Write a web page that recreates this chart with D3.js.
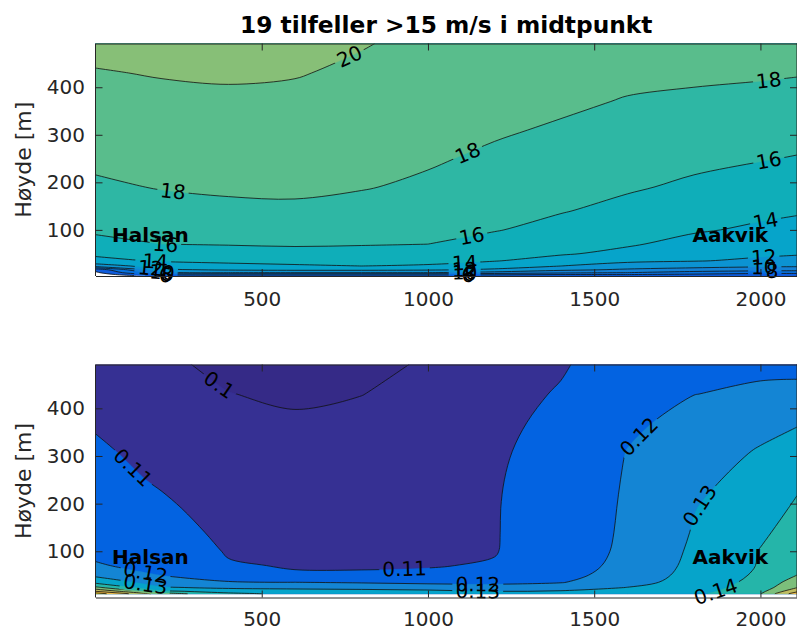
<!DOCTYPE html>
<html>
<head>
<meta charset="utf-8">
<script src="https://cdn.jsdelivr.net/npm/d3@7"></script>
<style>
  body { margin: 0; background: #fff; }
  svg { font-family: "DejaVu Sans", sans-serif; display: block; }
</style>
</head>
<body>
<svg id="fig" width="797" height="632"></svg>
<script>
// ---- data --------------------------------------------------------------
// distance along the crossing, Halsan -> Aakvik (m)
const xDist = [0, 200, 400, 600, 800, 1000, 1200, 1400, 1600, 1800, 2000, 2110];

// heights above sea level (m) of the grid rows
const heightsWind = [3, 6, 10, 16, 24, 35, 50, 70, 100, 140, 190, 250, 310, 370, 430, 492];
const heightsTi   = [11, 16, 24, 35, 50, 70, 100, 140, 190, 250, 310, 370, 430, 492];

// mean wind speed (m/s); one row per height (lowest first), columns follow xDist
const windSpeed = [
  [2.0,  4.6,  4.8,  4.8,  4.8,  4.8,  4.7,  4.5,  4.5,  4.3,  4.2,  4.2],
  [3.0,  6.3,  6.5,  6.5,  6.5,  6.5,  6.3,  6.0,  6.0,  5.6,  5.0,  5.0],
  [3.6,  9.5, 10.0, 10.0, 10.0, 10.0,  9.3,  8.4,  8.0,  7.2,  6.8,  6.7],
  [4.6, 11.7, 12.2, 12.4, 12.4, 12.2, 11.7, 10.4,  9.7,  9.1,  8.7,  8.6],
  [11.0, 12.9, 13.5, 13.8, 14.0, 13.8, 12.9, 12.0, 11.1, 10.8, 10.4, 10.3],
  [13.4, 14.2, 14.4, 14.5, 14.6, 14.5, 14.1, 13.2, 12.4, 12.1, 11.7, 11.3],
  [14.4, 14.9, 15.2, 15.4, 15.4, 15.2, 14.6, 14.2, 13.5, 12.7, 12.3, 12.2],
  [15.4, 16.0, 16.1, 16.2, 16.1, 16.0, 15.3, 14.7, 14.2, 13.4, 12.9, 12.6],
  [16.3, 16.5, 16.7, 16.8, 16.7, 16.5, 16.1, 15.4, 15.0, 14.2, 13.7, 13.4],
  [16.9, 17.3, 17.7, 17.7, 17.4, 17.0, 16.5, 16.1, 15.5, 14.9, 14.4, 14.2],
  [17.7, 18.1, 18.2, 18.3, 18.1, 17.7, 17.1, 16.6, 16.2, 15.7, 15.2, 15.0],
  [18.4, 18.6, 18.7, 18.7, 18.5, 18.2, 17.7, 17.2, 16.8, 16.4, 16.1, 15.9],
  [18.9, 19.1, 19.2, 19.1, 18.9, 18.5, 18.2, 17.8, 17.4, 17.1, 16.8, 16.7],
  [19.4, 19.6, 19.7, 19.6, 19.3, 18.9, 18.6, 18.3, 17.9, 17.7, 17.5, 17.4],
  [19.9, 20.1, 20.2, 20.1, 19.7, 19.2, 19.0, 18.7, 18.4, 18.3, 18.2, 18.1],
  [20.5, 20.6, 20.7, 20.5, 20.1, 19.6, 19.4, 19.1, 18.8, 18.9, 18.9, 18.9]
];

// turbulence intensity (-); one row per height (lowest first), columns follow xDist
const turbIntensity = [
  [0.1850, 0.1550, 0.1420, 0.1380, 0.1370, 0.1370, 0.1360, 0.1360, 0.1345, 0.1375, 0.1495, 0.1760],
  [0.1700, 0.1420, 0.1360, 0.1340, 0.1330, 0.1330, 0.1300, 0.1310, 0.1320, 0.1365, 0.1470, 0.1680],
  [0.1520, 0.1310, 0.1280, 0.1275, 0.1270, 0.1240, 0.1225, 0.1245, 0.1302, 0.1355, 0.1445, 0.1595],
  [0.1370, 0.1250, 0.1205, 0.1200, 0.1190, 0.1183, 0.1185, 0.1195, 0.1260, 0.1345, 0.1428, 0.1550],
  [0.1278, 0.1197, 0.1160, 0.1108, 0.1106, 0.1112, 0.1150, 0.1175, 0.1235, 0.1335, 0.1415, 0.1500],
  [0.1204, 0.1186, 0.1108, 0.1094, 0.1095, 0.1096, 0.1106, 0.1165, 0.1222, 0.1325, 0.1406, 0.1475],
  [0.1190, 0.1168, 0.1092, 0.1087, 0.1088, 0.1091, 0.1096, 0.1158, 0.1215, 0.1316, 0.1404, 0.1455],
  [0.1175, 0.1145, 0.1075, 0.1075, 0.1077, 0.1082, 0.1095, 0.1153, 0.1212, 0.1306, 0.1385, 0.1435],
  [0.1157, 0.1116, 0.1062, 0.1060, 0.1063, 0.1071, 0.1095, 0.1148, 0.1210, 0.1297, 0.1362, 0.1412],
  [0.1135, 0.1089, 0.1046, 0.1042, 0.1047, 0.1058, 0.1093, 0.1140, 0.1207, 0.1275, 0.1336, 0.1385],
  [0.1114, 0.1069, 0.1031, 0.1024, 0.1031, 0.1044, 0.1089, 0.1130, 0.1202, 0.1250, 0.1308, 0.1338],
  [0.1091, 0.1049, 0.1016, 0.1006, 0.1015, 0.1031, 0.1083, 0.1118, 0.1185, 0.1225, 0.1268, 0.1293],
  [0.1066, 0.1029, 0.1001, 0.0993, 0.0999, 0.1018, 0.1075, 0.1106, 0.1163, 0.1199, 0.1212, 0.1230],
  [0.1040, 0.1008, 0.0990, 0.0985, 0.0990, 0.1004, 0.1060, 0.1093, 0.1140, 0.1175, 0.1185, 0.1170]
];

// contour levels
const windLevels = [4, 6, 8, 10, 12, 14, 16, 18, 20];
const tiLevels = [0.10, 0.11, 0.12, 0.13, 0.14, 0.15, 0.16, 0.17, 0.18];

// inline contour labels: level and the approximate spot (distance, height) on the line
const windLabels = [
  {level: 20, x: 765, h: 463},
  {level: 18, x: 234, h: 188}, {level: 18, x: 1125, h: 253}, {level: 18, x: 2025, h: 414},
  {level: 16, x: 210, h: 68},  {level: 16, x: 1134, h: 79},  {level: 16, x: 2025, h: 247},
  {level: 14, x: 180, h: 32},  {level: 14, x: 1110, h: 32},  {level: 14, x: 2016, h: 116},
  {level: 12, x: 165, h: 18},  {level: 12, x: 1110, h: 15},  {level: 12, x: 2010, h: 43},
  {level: 10, x: 200, h: 10},  {level: 10, x: 1110, h: 10},  {level: 10, x: 2010, h: 18},
  {level: 8,  x: 215, h: 7},   {level: 8,  x: 1125, h: 7},   {level: 8,  x: 2035, h: 12},
  {level: 6,  x: 210, h: 5},   {level: 6,  x: 1120, h: 5}
];
const tiLabels = [
  {level: 0.10, x: 360, h: 438},
  {level: 0.11, x: 120, h: 281}, {level: 0.11, x: 930, h: 52},
  {level: 0.12, x: 150, h: 54},  {level: 0.12, x: 1150, h: 33}, {level: 0.12, x: 1635, h: 340},
  {level: 0.13, x: 150, h: 29},  {level: 0.13, x: 1150, h: 19}, {level: 0.13, x: 1815, h: 197},
  {level: 0.14, x: 1860, h: 29}
];

// place names written inside both panels
const places = [
  {name: "Halsan", x: 50, h: 74},
  {name: "Aakvik", x: 1796, h: 74}
];

const xTicks = [500, 1000, 1500, 2000];
const yTicks = [100, 200, 300, 400];
const titleText = "19 tilfeller >15 m/s i midtpunkt";
const yLabelText = "Høyde [m]";

// parula colour map (64 entries)
const parula = [
  [0.2081,0.1663,0.5292],[0.2116,0.1898,0.5777],[0.2123,0.2138,0.6270],[0.2081,0.2386,0.6771],
  [0.1959,0.2645,0.7279],[0.1707,0.2919,0.7792],[0.1253,0.3242,0.8303],[0.0591,0.3598,0.8683],
  [0.0117,0.3875,0.8820],[0.0060,0.4086,0.8828],[0.0165,0.4266,0.8786],[0.0329,0.4430,0.8720],
  [0.0498,0.4586,0.8641],[0.0629,0.4737,0.8554],[0.0723,0.4887,0.8467],[0.0779,0.5040,0.8384],
  [0.0793,0.5200,0.8312],[0.0749,0.5375,0.8263],[0.0641,0.5570,0.8240],[0.0488,0.5772,0.8228],
  [0.0343,0.5966,0.8199],[0.0265,0.6137,0.8135],[0.0239,0.6287,0.8038],[0.0231,0.6418,0.7913],
  [0.0228,0.6535,0.7768],[0.0267,0.6642,0.7607],[0.0384,0.6743,0.7436],[0.0590,0.6838,0.7254],
  [0.0843,0.6928,0.7062],[0.1133,0.7015,0.6859],[0.1453,0.7098,0.6646],[0.1801,0.7177,0.6424],
  [0.2178,0.7250,0.6193],[0.2586,0.7317,0.5954],[0.3022,0.7376,0.5712],[0.3482,0.7424,0.5473],
  [0.3953,0.7459,0.5244],[0.4420,0.7481,0.5033],[0.4871,0.7491,0.4840],[0.5300,0.7491,0.4661],
  [0.5709,0.7485,0.4494],[0.6099,0.7473,0.4337],[0.6473,0.7456,0.4188],[0.6834,0.7435,0.4044],
  [0.7184,0.7411,0.3905],[0.7525,0.7384,0.3768],[0.7858,0.7356,0.3633],[0.8185,0.7327,0.3498],
  [0.8507,0.7299,0.3360],[0.8824,0.7274,0.3217],[0.9139,0.7258,0.3063],[0.9450,0.7261,0.2886],
  [0.9739,0.7314,0.2666],[0.9938,0.7455,0.2403],[0.9990,0.7653,0.2164],[0.9955,0.7861,0.1967],
  [0.9880,0.8066,0.1794],[0.9789,0.8271,0.1633],[0.9697,0.8481,0.1475],[0.9626,0.8705,0.1309],
  [0.9589,0.8949,0.1132],[0.9598,0.9218,0.0948],[0.9661,0.9514,0.0755],[0.9763,0.9831,0.0538]
].map(c => d3.rgb(c[0] * 255, c[1] * 255, c[2] * 255).formatHex());

// ---- layout ------------------------------------------------------------
const svg = d3.select("#fig");
const defs = svg.append("defs");
const plotLeft = 95.5, plotRight = 797;
const axisColor = "#262626";
const tickFont = 20;

const xScale = d3.scaleLinear().domain([0, 2110]).range([plotLeft, plotRight]);

// smooth curves through the contour crossing points
const openCurve = d3.line().curve(d3.curveCatmullRom.alpha(0.5));
const closedCurve = d3.line().curve(d3.curveCatmullRomClosed.alpha(0.5));

const panels = [
  {id: "wind", top: 43.5, bottom: 276, heights: heightsWind, values: windSpeed,
   levels: windLevels, fillBelow: false, colorDomain: [0.5, 32.5],
   labels: windLabels, fmt: v => String(v), tickPad: 16},
  {id: "ti", top: 364.5, bottom: 597.5, heights: heightsTi, values: turbIntensity,
   levels: tiLevels, fillBelow: true, colorDomain: [0.098, 0.185],
   labels: tiLabels, fmt: v => String(+v.toFixed(2)), tickPad: 14.5}
];

panels.forEach(p => drawPanel(p));

svg.append("text")
  .attr("x", (plotLeft + plotRight) / 2).attr("y", 33)
  .attr("text-anchor", "middle")
  .attr("font-size", 23.3).attr("font-weight", "bold").attr("fill", "#000")
  .text(titleText);

function drawPanel(p) {
  const n = xDist.length, m = p.heights.length;
  const yScale = d3.scaleLinear().domain([3, 492]).range([p.bottom, p.top]);
  const color = d3.scaleQuantize().domain(p.colorDomain).range(parula);
  const x0 = xDist[0], x1 = xDist[n - 1];
  const h0 = p.heights[0], h1 = p.heights[m - 1];

  // grid coordinates from d3.contours (value i sits at i + 0.5) -> data coordinates
  function axisInterp(g, arr) {
    const f = g - 0.5;
    if (f <= 0) return arr[0];
    if (f >= arr.length - 1) return arr[arr.length - 1];
    const i = Math.floor(f), t = f - i;
    return arr[i] + (arr[i + 1] - arr[i]) * t;
  }
  const toData = (gx, gy) => [axisInterp(gx, xDist), axisInterp(gy, p.heights)];
  const toScreen = d => [xScale(d[0]), yScale(d[1])];

  const onEdge = (a, b) =>
    (a[0] === x0 && b[0] === x0) || (a[0] === x1 && b[0] === x1) ||
    (a[1] === h0 && b[1] === h0) || (a[1] === h1 && b[1] === h1);

  // split one closed ring into straight edge runs and curved interior runs
  function splitRing(ring) {
    const pts = ring.slice(0, ring.length - 1).map(([gx, gy]) => toData(gx, gy));
    const k = pts.length;
    const edgeSeg = i => onEdge(pts[i], pts[(i + 1) % k]);
    let start = -1;
    for (let i = 0; i < k; i++) if (edgeSeg(i)) { start = i; break; }
    if (start < 0) return {closed: true, pts: pts.map(toScreen)};
    const runs = [];
    let cur = null;
    for (let s = 0; s < k; s++) {
      const i = (start + s) % k;
      const e = edgeSeg(i);
      if (!cur || cur.edge !== e) { cur = {edge: e, pts: [toScreen(pts[i])]}; runs.push(cur); }
      cur.pts.push(toScreen(pts[(i + 1) % k]));
    }
    return {closed: false, runs};
  }

  function ringPath(r) {
    if (r.closed) return closedCurve(r.pts);
    let d = "M" + r.runs[0].pts[0].join(",");
    r.runs.forEach(run => {
      if (run.edge) run.pts.slice(1).forEach(q => { d += "L" + q.join(","); });
      else d += openCurve(run.pts).replace(/^M/, "L");
    });
    return d + "Z";
  }

  const flat = p.values.flat();
  const fillThresholds = p.fillBelow ? [d3.min(flat)].concat(p.levels) : p.levels.slice();
  const bands = d3.contours().size([n, m]).thresholds(fillThresholds)(flat)
    .map(b => ({value: b.value, rings: b.coordinates.flatMap(poly => poly.map(splitRing))}));

  const clipId = "clip-" + p.id;
  defs.append("clipPath").attr("id", clipId)
    .append("rect")
    .attr("x", plotLeft).attr("y", p.top)
    .attr("width", plotRight - plotLeft).attr("height", p.bottom - p.top);

  // white plot background
  svg.append("rect")
    .attr("x", plotLeft).attr("y", p.top)
    .attr("width", plotRight - plotLeft).attr("height", p.bottom - p.top)
    .attr("fill", "#fff");

  // filled bands
  svg.append("g").attr("clip-path", `url(#${clipId})`)
    .selectAll("path").data(bands).join("path")
    .attr("d", b => b.rings.map(ringPath).join(""))
    .attr("fill", b => color(b.value))
    .attr("stroke", b => color(b.value))
    .attr("stroke-width", 0.3);

  // isolines (interior runs only) per level
  const linesByLevel = new Map();
  bands.filter(b => p.levels.includes(b.value)).forEach(b => {
    const runs = [];
    b.rings.forEach(r => {
      if (r.closed) runs.push({closed: true, pts: r.pts.concat([r.pts[0]])});
      else r.runs.filter(u => !u.edge).forEach(u => runs.push({closed: false, pts: u.pts}));
    });
    linesByLevel.set(b.value, runs);
  });

  const maskId = "gap-" + p.id;
  const mask = defs.append("mask").attr("id", maskId)
    .attr("maskUnits", "userSpaceOnUse")
    .attr("x", 0).attr("y", 0).attr("width", 797).attr("height", 632);
  mask.append("rect").attr("x", 0).attr("y", 0).attr("width", 797).attr("height", 632).attr("fill", "#fff");

  const allRuns = [];
  linesByLevel.forEach(runs => runs.forEach(r => allRuns.push(r)));
  svg.append("g").attr("clip-path", `url(#${clipId})`)
    .append("g").attr("mask", `url(#${maskId})`)
    .selectAll("path").data(allRuns).join("path")
    .attr("d", r => r.closed ? closedCurve(r.pts.slice(0, -1)) : openCurve(r.pts))
    .attr("fill", "none")
    .attr("stroke", "#111")
    .attr("stroke-width", 0.8)
    .attr("stroke-linejoin", "round");

  // inline labels
  const labelG = svg.append("g");
  p.labels.forEach(lab => {
    const runs = linesByLevel.get(lab.level) || [];
    const target = [xScale(lab.x), yScale(lab.h)];
    let best = null;
    runs.forEach(r => {
      const run = r.pts;
      let acc = 0;
      for (let k = 0; k < run.length - 1; k++) {
        const a = run[k], b = run[k + 1];
        const dx = b[0] - a[0], dy = b[1] - a[1];
        const len = Math.hypot(dx, dy);
        let t = len > 0 ? ((target[0] - a[0]) * dx + (target[1] - a[1]) * dy) / (len * len) : 0;
        t = Math.max(0, Math.min(1, t));
        const q = [a[0] + dx * t, a[1] + dy * t];
        const dist = Math.hypot(q[0] - target[0], q[1] - target[1]);
        if (!best || dist < best.dist) best = {dist, q, run, s: acc + len * t};
        acc += len;
      }
    });
    if (!best) return;
    const pa = pointAt(best.run, best.s - 14), pb = pointAt(best.run, best.s + 14);
    let ang = Math.atan2(pb[1] - pa[1], pb[0] - pa[0]) * 180 / Math.PI;
    if (ang > 90) ang -= 180;
    if (ang < -90) ang += 180;
    const txt = labelG.append("text")
      .attr("transform", `translate(${best.q[0]},${best.q[1]}) rotate(${ang})`)
      .attr("text-anchor", "middle").attr("dy", "0.36em")
      .attr("font-size", tickFont).attr("fill", "#000")
      .text(p.fmt(lab.level));
    const w = txt.node().getComputedTextLength() + 6;
    mask.append("rect")
      .attr("x", -w / 2).attr("y", -tickFont * 0.45)
      .attr("width", w).attr("height", tickFont * 0.9)
      .attr("transform", `translate(${best.q[0]},${best.q[1]}) rotate(${ang})`)
      .attr("fill", "#000");
  });

  // axes box with inward ticks
  const fmt = d3.format("d");
  const gB = svg.append("g").attr("transform", `translate(0,${p.bottom})`)
    .call(d3.axisBottom(xScale).tickValues(xTicks).tickFormat(fmt).tickSize(-7).tickSizeOuter(0).tickPadding(p.tickPad));
  const gT = svg.append("g").attr("transform", `translate(0,${p.top})`)
    .call(d3.axisTop(xScale).tickValues(xTicks).tickSize(-7).tickSizeOuter(0).tickFormat(""));
  const gL = svg.append("g").attr("transform", `translate(${plotLeft},0)`)
    .call(d3.axisLeft(yScale).tickValues(yTicks).tickFormat(fmt).tickSize(-7).tickSizeOuter(0).tickPadding(10.5));
  const gR = svg.append("g").attr("transform", `translate(${plotRight},0)`)
    .call(d3.axisRight(yScale).tickValues(yTicks).tickSize(-7).tickSizeOuter(0).tickFormat(""));
  [gB, gT, gL, gR].forEach(g => {
    g.select(".domain").attr("stroke", axisColor).attr("stroke-width", 1);
    g.selectAll(".tick line").attr("stroke", axisColor).attr("stroke-width", 1);
    g.selectAll(".tick text").attr("fill", axisColor)
      .attr("font-size", tickFont).attr("font-family", "DejaVu Sans");
  });
  gL.select(".domain").attr("d", `M0,${p.top}V${p.bottom}`);
  gR.select(".domain").attr("d", `M0,${p.top}V${p.bottom}`);

  // place names
  places.forEach(pl => {
    svg.append("text")
      .attr("x", xScale(pl.x)).attr("y", yScale(pl.h))
      .attr("font-size", 20).attr("font-weight", "bold").attr("fill", "#000")
      .text(pl.name);
  });

  // y axis title
  svg.append("text")
    .attr("transform", `translate(31,${(p.top + p.bottom) / 2}) rotate(-90)`)
    .attr("text-anchor", "middle")
    .attr("font-size", 22).attr("fill", axisColor)
    .text(yLabelText);
}

function pointAt(run, s) {
  let acc = 0;
  if (s <= 0) return run[0];
  for (let k = 0; k < run.length - 1; k++) {
    const a = run[k], b = run[k + 1];
    const len = Math.hypot(b[0] - a[0], b[1] - a[1]);
    if (acc + len >= s) {
      const t = len > 0 ? (s - acc) / len : 0;
      return [a[0] + (b[0] - a[0]) * t, a[1] + (b[1] - a[1]) * t];
    }
    acc += len;
  }
  return run[run.length - 1];
}
</script>
</body>
</html>
